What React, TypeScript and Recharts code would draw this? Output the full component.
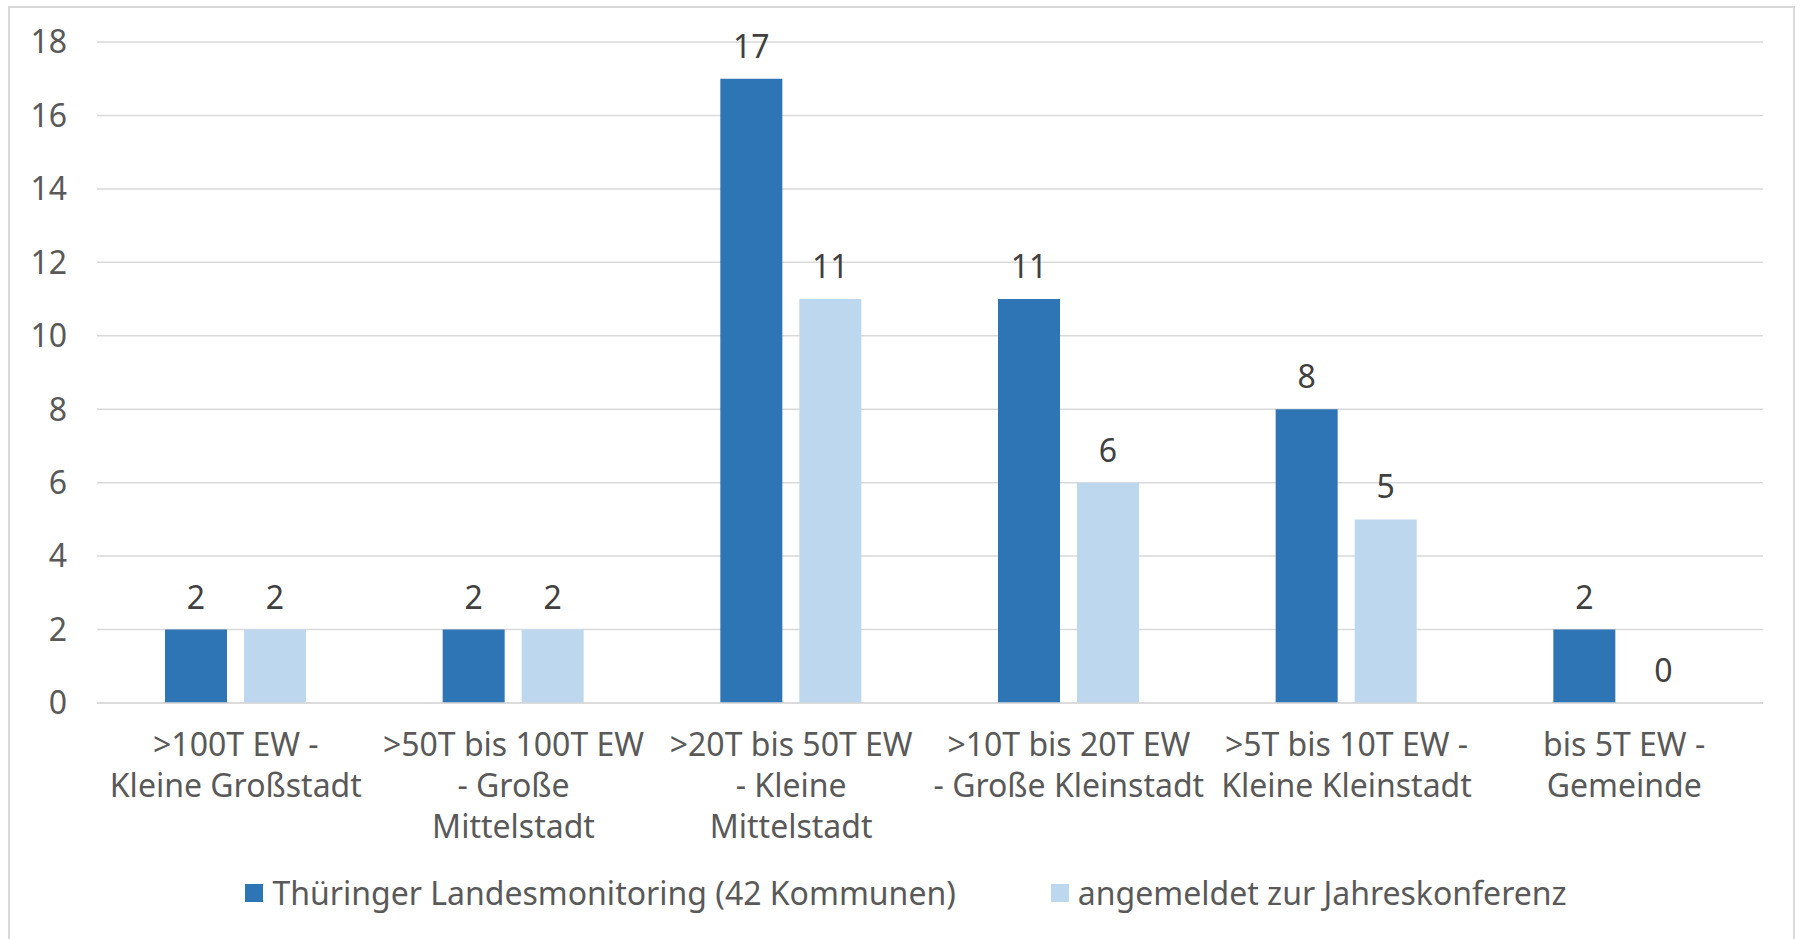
import React from 'react';
import { BarChart, Bar, XAxis, YAxis, CartesianGrid, Legend, LabelList } from 'recharts';

// Einwohnergrößenklassen der Kommunen
const CATEGORIES = [
  '>100T EW - Kleine Großstadt',
  '>50T bis 100T EW - Große Mittelstadt',
  '>20T bis 50T EW - Kleine Mittelstadt',
  '>10T bis 20T EW - Große Kleinstadt',
  '>5T bis 10T EW - Kleine Kleinstadt',
  'bis 5T EW - Gemeinde',
];

// wrapped tick labels as in the original
const TICK_LINES = [
  ['>100T EW -', 'Kleine Großstadt'],
  ['>50T bis 100T EW', '- Große', 'Mittelstadt'],
  ['>20T bis 50T EW', '- Kleine', 'Mittelstadt'],
  ['>10T bis 20T EW', '- Große Kleinstadt'],
  ['>5T bis 10T EW -', 'Kleine Kleinstadt'],
  ['bis 5T EW -', 'Gemeinde'],
];

const MONITORING = [2, 2, 17, 11, 8, 2];
const ANGEMELDET = [2, 2, 11, 6, 5, 0];

const Y_TICKS = [0, 2, 4, 6, 8, 10, 12, 14, 16, 18];

const SERIES = [
  { key: 'monitoring', name: 'Thüringer Landesmonitoring (42 Kommunen)', color: '#2E75B6' },
  { key: 'angemeldet', name: 'angemeldet zur Jahreskonferenz', color: '#BDD7EE' },
];

const data = CATEGORIES.map((name, i) => ({
  name,
  monitoring: MONITORING[i],
  angemeldet: ANGEMELDET[i],
}));

const FONT = '"Noto Sans", "Open Sans", sans-serif';
const AXIS_TEXT = '#595959';
const LABEL_TEXT = '#404040';
const GRID = '#d9d9d9';

const CategoryTick = (props: any) => {
  const { x, y, payload } = props;
  const lines = TICK_LINES[payload.index] || [payload.value];
  return (
    <g>
      {lines.map((line: string, i: number) => (
        <text
          key={i}
          x={x}
          y={y + 53 + i * 41}
          textAnchor="middle"
          fill={AXIS_TEXT}
          fontSize={32}
          fontFamily={FONT}
        >
          {line}
        </text>
      ))}
    </g>
  );
};

// value label above each bar (also for zero-height bars)
const ValueLabel = (props: any) => {
  const { x, y, width, value } = props;
  if (value == null || x == null) return null;
  return (
    <text
      x={x + width / 2}
      y={y - 21}
      textAnchor="middle"
      fill={LABEL_TEXT}
      fontSize={32}
      fontFamily={FONT}
    >
      {value}
    </text>
  );
};

// keep zero bars in the rectangle list so their "0" label is drawn
const zeroMin = (value: any) => (value === 0 ? 0.01 : 0);

const renderLegend = () => (
  <div
    style={{
      display: 'flex',
      justifyContent: 'center',
      alignItems: 'center',
      height: 40,
      paddingLeft: 49,
      gap: 95,
      fontFamily: FONT,
      fontSize: 32,
      color: AXIS_TEXT,
    }}
  >
    {SERIES.map((s) => (
      <div key={s.key} style={{ display: 'flex', alignItems: 'center' }}>
        <span style={{ width: 18, height: 18, background: s.color, marginRight: 9, display: 'inline-block' }} />
        <span style={{ lineHeight: '40px', whiteSpace: 'nowrap' }}>{s.name}</span>
      </div>
    ))}
  </div>
);

export default function App() {
  return (
    <div style={{ position: 'fixed', left: 0, top: 0, width: 1800, height: 939, overflow: 'hidden', background: '#fff' }}>
      <div
        style={{
          position: 'absolute',
          left: 8,
          top: 6,
          width: 1787,
          height: 960,
          border: `2px solid ${GRID}`,
          boxSizing: 'border-box',
        }}
      />
      <div style={{ position: 'absolute', left: 0, top: 0 }}>
        <BarChart
          width={1800}
          height={939}
          data={data}
          margin={{ top: 42, right: 37, bottom: 26, left: 0 }}
          barSize={62}
          barGap={17}
          style={{ fontFamily: FONT }}
        >
          <CartesianGrid vertical={false} stroke={GRID} strokeWidth={1.5} />
          <XAxis
            dataKey="name"
            interval={0}
            height={170}
            tickLine={false}
            tickSize={0}
            tickMargin={0}
            axisLine={{ stroke: GRID, strokeWidth: 1.5 }}
            tick={<CategoryTick />}
          />
          <YAxis
            domain={[0, 18]}
            ticks={Y_TICKS}
            width={97}
            axisLine={false}
            tickLine={false}
            tickSize={0}
            tickMargin={30}
            tick={{ fill: AXIS_TEXT, fontSize: 32, fontFamily: FONT }}
          />
          <Legend verticalAlign="bottom" content={renderLegend} />
          {SERIES.map((s) => (
            <Bar
              key={s.key}
              dataKey={s.key}
              name={s.name}
              fill={s.color}
              minPointSize={zeroMin}
              isAnimationActive={false}
            >
              <LabelList dataKey={s.key} content={<ValueLabel />} />
            </Bar>
          ))}
        </BarChart>
      </div>
    </div>
  );
}
